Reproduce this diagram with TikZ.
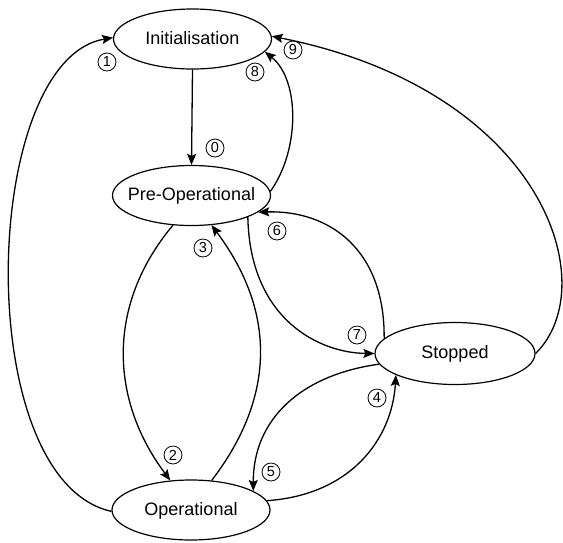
\documentclass[tikz,border=0pt]{standalone}
\usepackage{fontspec}
\setmainfont{Liberation Sans}
\usetikzlibrary{shapes.geometric,arrows.meta}

\begin{document}
\begin{tikzpicture}[x=1pt,y=-1pt,
  state/.style={draw,ellipse,line width=1.2pt,minimum width=158pt,minimum height=60pt,inner sep=0pt,
    text height=13pt,text depth=3pt,font=\fontsize{18}{20}\selectfont},
  tr/.style={line width=1.3pt,-{Stealth[length=11pt,width=9pt,inset=2pt]}},
  num/.style={draw,circle,line width=0.8pt,minimum size=18pt,inner sep=0pt,font=\fontsize{14.5}{14.5}\selectfont}]
\useasboundingbox (0,0) rectangle (563,542);

\node[state] (init) at (192.5,39) {\makebox[0pt]{Initialisation}};
\node[state] (pre)  at (191.5,195.5) {\makebox[0pt]{Pre-Operational}};
\node[state] (oper) at (191,510) {\makebox[0pt]{Operational}};
\node[state,minimum width=160pt,minimum height=62pt] (stop) at (455,353.5) {\makebox[0pt]{Stopped}};

% transitions
\draw[tr] (init.south) -- (pre.north);
\draw[tr] (oper.181) .. controls (-30,480) and (-20,60) .. (init.179);
\draw[tr] (pre.-122) .. controls (106,305) and (110,400) .. (oper.125);
\draw[tr] (oper.55) .. controls (277,395) and (275,310) .. (pre.-56);
\draw[tr] (oper.7) .. controls (350,495) and (392,440) .. (stop.200);
\draw[tr] (stop.188) .. controls (300,375) and (253,420) .. (oper.17);
\draw[tr] (stop.168) .. controls (385,250) and (330,210) .. (pre.-14);
\draw[tr] (pre.-21) .. controls (250,320) and (320,353) .. (stop.180);
\draw[tr] (pre.3) .. controls (300,150) and (300,80) .. (init.-10);
\draw[tr] (stop.0) .. controls (605,285) and (543,90) .. (init.2);

% labels
\node[num] (n0) at (215,148) {0};
\node[num] (n1) at (107,62) {1};
\node[num] (n2) at (173,455) {2};
\node[num] (n3) at (203,248) {3};
\node[num] (n4) at (377,398) {4};
\node[num] (n5) at (271,472) {5};
\node[num] (n6) at (277,231) {6};
\node[num] (n7) at (357,335) {7};
\node[num] (n8) at (255,72) {8};
\node[num] (n9) at (293,50) {9};
\end{tikzpicture}
\end{document}
